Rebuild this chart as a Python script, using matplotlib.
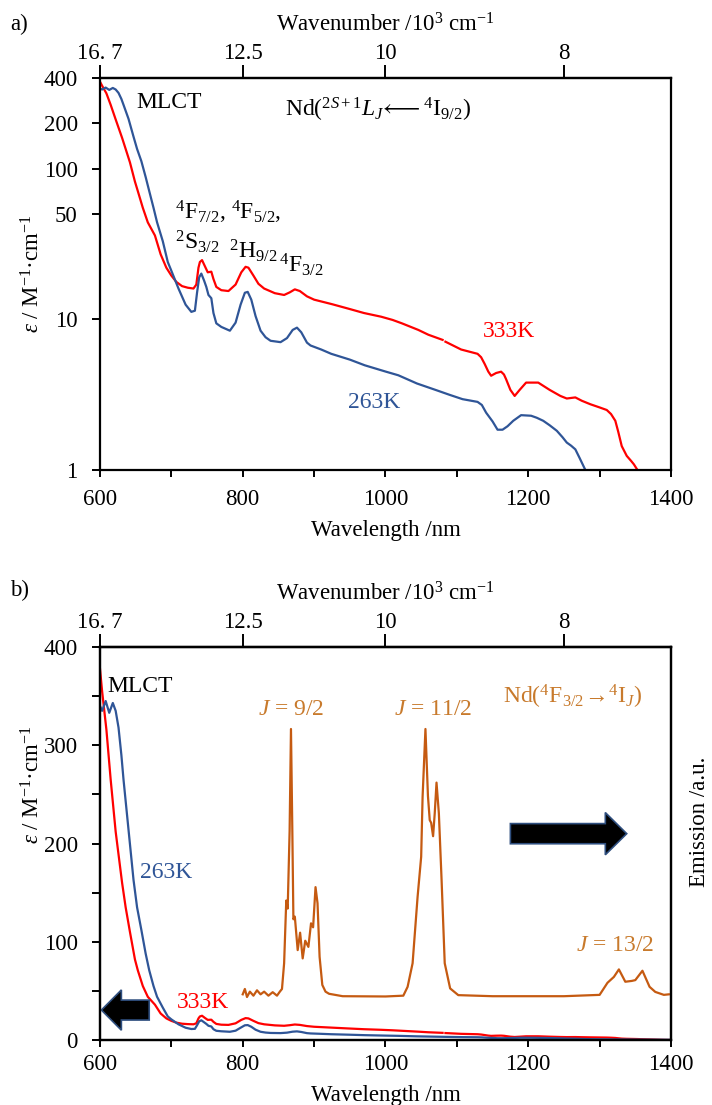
import numpy as np
import matplotlib
matplotlib.use('Agg')
import matplotlib.pyplot as plt
from matplotlib.patches import FancyArrow
from matplotlib.ticker import FixedLocator, MultipleLocator, FuncFormatter

plt.rcParams['font.family'] = ['Liberation Serif', 'DejaVu Serif']
plt.rcParams['mathtext.fontset'] = 'custom'
plt.rcParams['mathtext.rm'] = 'Liberation Serif'
plt.rcParams['mathtext.it'] = 'Liberation Serif:italic'
plt.rcParams['mathtext.bf'] = 'Liberation Serif:bold'

# absorption, 263 K (wavelength nm, epsilon M-1 cm-1)
wl_263 = [600, 603, 608, 613, 618, 622, 626, 630, 633, 640, 647, 652, 658, 664, 669,
          675, 680, 688, 695, 700, 710, 720, 728, 733, 736, 739, 742, 746, 749, 752,
          756, 759, 763, 770, 782, 790, 797, 803, 807, 812, 818, 825, 832, 839, 853,
          862, 870, 876, 882, 890, 895, 910, 924, 950, 971, 1000, 1018, 1044, 1070, 1090,
          1108, 1129, 1135, 1141, 1150, 1157, 1164, 1171, 1179, 1190, 1204, 1212, 1221, 1230, 1240,
          1248, 1254, 1260, 1266, 1272, 1280, 1290, 1320, 1360, 1400]
eps_263 = [340, 335, 345, 333, 343, 335, 318, 290, 265, 214, 163, 135, 112, 88, 71,
           55, 44, 33, 24, 21, 16, 12.5, 11.2, 11.4, 15, 19, 20.1, 18, 16.4, 14.5,
           13.8, 11, 9.4, 8.9, 8.4, 9.5, 12.5, 15, 15.2, 13.5, 10.5, 8.4, 7.6, 7.2, 7.05,
           7.5, 8.5, 8.8, 8.2, 7.0, 6.7, 6.3, 5.9, 5.4, 4.95, 4.5, 4.25, 3.75, 3.4, 3.15,
           2.95, 2.83, 2.7, 2.4, 2.1, 1.85, 1.85, 1.95, 2.12, 2.31, 2.29, 2.22, 2.12, 1.98, 1.82,
           1.65, 1.52, 1.45, 1.37, 1.2, 1.0, 0.85, 0.6, 0.4, 0.2]

# absorption, 333 K (gap in the recorded trace near 1082 nm)
wl_333 = [600, 603, 609, 615, 622, 631, 636, 642, 649, 653, 660, 667, 677, 685, 693,
          700, 707, 715, 723, 731, 735, 738, 740, 743, 747, 751, 756, 759, 763, 770,
          780, 790, 798, 804, 808, 815, 822, 830, 845, 858, 866, 873, 880, 890, 900,
          925, 947, 970, 994, 1010, 1023, 1046, 1060, 1080, 1082, 1084, 1106, 1129, 1134, 1139,
          1144, 1148, 1155, 1162, 1166, 1169, 1175, 1181, 1188, 1197, 1214, 1230, 1245, 1254, 1266,
          1275, 1287, 1300, 1310, 1316, 1322, 1326, 1331, 1338, 1344, 1348, 1353, 1360, 1375, 1390, 1400]
eps_333 = [378, 355, 316, 265, 212, 160, 135, 110, 82, 71, 55, 44, 36, 27, 22,
           19.5, 17.7, 16.6, 16.2, 16.0, 17, 22, 24, 24.7, 22.5, 20.5, 20.7, 18.5, 16.4, 15.6,
           15.4, 17, 20.5, 22.3, 22, 19.5, 17.2, 16.0, 14.9, 14.5, 15.1, 15.8, 15.4, 14.2, 13.5,
           12.6, 11.8, 11.0, 10.4, 9.9, 9.4, 8.5, 7.9, 7.3, np.nan, 7.1, 6.3, 5.9, 5.6, 5.05,
           4.5, 4.22, 4.4, 4.49, 4.3, 4.0, 3.4, 3.1, 3.4, 3.8, 3.8, 3.4, 3.1, 2.98, 3.03,
           2.88, 2.73, 2.6, 2.5, 2.35, 2.12, 1.8, 1.44, 1.24, 1.15, 1.09, 1.0, 0.8, 0.5, 0.15, 0.05]

# Nd emission (normalised to the strongest line)
wl_em = [800, 803, 806, 810, 815, 820, 825, 830, 836, 842, 848, 852, 855, 858, 861,
         863, 865.7, 867.6, 869.5, 871, 873, 877, 880.4, 884, 887.6, 892, 895.7, 898.6, 902, 904.8,
         907.7, 911.5, 916, 921, 940, 1000, 1025, 1031, 1038, 1045, 1050, 1052, 1056, 1059.5, 1062,
         1064, 1066.7, 1069, 1071.5, 1074.8, 1078.6, 1083, 1090.6, 1102, 1150, 1250, 1300, 1311, 1320, 1327,
         1336, 1345, 1350, 1360, 1370, 1378, 1390, 1397]
em = [0.01, 0.03, 0.0, 0.02, 0.005, 0.025, 0.01, 0.02, 0.005, 0.018, 0.005, 0.02, 0.03, 0.126, 0.36,
      0.33, 0.62, 1.0, 0.62, 0.29, 0.30, 0.175, 0.24, 0.144, 0.21, 0.187, 0.275, 0.26, 0.41, 0.35,
      0.15, 0.045, 0.02, 0.012, 0.003, 0.002, 0.005, 0.038, 0.126, 0.374, 0.523, 0.747, 1.0, 0.75, 0.66,
      0.65, 0.6, 0.685, 0.8, 0.685, 0.437, 0.126, 0.032, 0.007, 0.003, 0.003, 0.008, 0.053, 0.075, 0.103,
      0.057, 0.06, 0.063, 0.098, 0.038, 0.019, 0.008, 0.01]

wn_ticks = [1e4 / 600, 12.5, 10, 8]
wn_labels = ['16. 7', '12.5', '10', '8']
loglabels = [1, 10, 50, 100, 200, 400]

RED = '#FF0000'
BLUE = '#2F5597'
ORANGE = '#C55A11'
ORANGE_TXT = '#C87A2C'
FS = 16.5
AFS = 17

fig = plt.figure(figsize=(7.12, 11.05), dpi=100)
ax_a = fig.add_axes([0.1404, 0.5747, 0.802, 0.3548])
ax_b = fig.add_axes([0.1404, 0.0588, 0.802, 0.3557])


def style(ax, xpad):
    for s in ax.spines.values():
        s.set_linewidth(1.6)
    ax.set_xlim(600, 1400)
    ax.xaxis.set_major_locator(MultipleLocator(200))
    ax.xaxis.set_minor_locator(MultipleLocator(100))
    ax.tick_params(axis='x', which='both', direction='out', length=5, width=1.4, labelsize=FS, pad=xpad)
    ax.tick_params(axis='y', which='both', direction='out', length=6, width=1.4, labelsize=FS, pad=10)
    ax.set_xlabel('Wavelength /nm', fontsize=FS, labelpad=7)
    sec = ax.secondary_xaxis('top', functions=(lambda x: 1e4 / np.maximum(x, 1e-6),
                                                lambda x: 1e4 / np.maximum(x, 1e-6)))
    sec.xaxis.set_major_locator(FixedLocator(wn_ticks))
    sec.xaxis.set_major_formatter(FuncFormatter(lambda v, p: wn_labels[int(np.argmin(np.abs(np.array(wn_ticks) - v)))]))
    sec.xaxis.set_minor_locator(FixedLocator([]))
    sec.tick_params(axis='x', direction='out', length=9.5, width=1.4, labelsize=FS, pad=0.5)
    sec.set_xlabel('Wavenumber /10$^3$ cm$^{-1}$', fontsize=FS, labelpad=8)
    sec.spines['top'].set_linewidth(1.6)
    return sec


# ---- panel a: log scale absorption
style(ax_a, 9)
ax_a.plot(wl_333, eps_333, color=RED, lw=1.6)
ax_a.plot(wl_263, eps_263, color=BLUE, lw=1.6)
ax_a.set_yscale('log')
ax_a.set_ylim(1, 400)
ax_a.yaxis.set_major_locator(FixedLocator(loglabels))
ax_a.yaxis.set_major_formatter(FuncFormatter(lambda v, p: '%d' % round(v)))
ax_a.yaxis.set_minor_locator(FixedLocator([]))
ax_a.set_ylabel(r'$\varepsilon$ / M$^{-1}$·cm$^{-1}$', fontsize=FS)
ax_a.yaxis.set_label_coords(-0.098, 0.5)

ax_a.text(651, 273, 'MLCT', fontsize=AFS, va='center')
ax_a.text(989, 246, r'Nd($^{2S+1}L_J\!\longleftarrow$$^4$I$_{9/2}$)', fontsize=AFS, va='center', ha='center')
ax_a.text(705, 50.9, r'$^4$F$_{7/2}$, $^4$F$_{5/2}$,', fontsize=AFS, va='center')
ax_a.text(705, 32.6, r'$^2$S$_{3/2}$', fontsize=AFS, va='center')
ax_a.text(781, 28.5, r'$^2$H$_{9/2}$', fontsize=AFS, va='center')
ax_a.text(851, 23, r'$^4$F$_{3/2}$', fontsize=AFS, va='center')
ax_a.text(1137, 8.25, '333K', fontsize=AFS, va='center', color=RED)
ax_a.text(947, 2.79, '263K', fontsize=AFS, va='center', color=BLUE)
fig.text(0.014, 1 - 24 / 1105, 'a)', fontsize=FS, va='center')

# ---- panel b: linear absorption + emission
style(ax_b, 5)
ax_b.plot(wl_333, eps_333, color=RED, lw=1.6)
ax_b.plot(wl_263, eps_263, color=BLUE, lw=1.6)
ax_b.set_ylim(0, 400)
ax_b.yaxis.set_major_locator(MultipleLocator(100))
ax_b.yaxis.set_minor_locator(MultipleLocator(50))
ax_b.set_ylabel(r'$\varepsilon$ / M$^{-1}$·cm$^{-1}$', fontsize=FS)
ax_b.yaxis.set_label_coords(-0.098, 0.65)

ax_e = ax_b.twinx()
ax_e.plot(wl_em, em, color=ORANGE, lw=1.6)
ax_e.set_ylim(-0.1605, 1.306)
ax_e.set_yticks([])
ax_e.set_ylabel('Emission /a.u.', fontsize=FS)
ax_e.yaxis.set_label_coords(1.032, 0.555)
for s in ax_e.spines.values():
    s.set_linewidth(1.6)

ax_b.text(611, 360, 'MLCT', fontsize=AFS, va='center')
ax_b.text(656, 170, '263K', fontsize=AFS, va='center', color=BLUE)
ax_b.text(708, 37.7, '333K', fontsize=AFS, va='center', color=RED)
ax_b.text(868, 336, r'$J$ = 9/2', fontsize=AFS, va='center', ha='center', color=ORANGE_TXT)
ax_b.text(1067, 336, r'$J$ = 11/2', fontsize=AFS, va='center', ha='center', color=ORANGE_TXT)
ax_b.text(1262, 349, r'Nd($^4$F$_{3/2}$$\!\rightarrow\!$$^4$I$_J$)', fontsize=AFS, va='center', ha='center',
          color=ORANGE_TXT)
ax_b.text(1322, 96.7, r'$J$ = 13/2', fontsize=AFS, va='center', ha='center', color=ORANGE_TXT)

# block arrows showing which axis each set of curves belongs to
ax_b.add_patch(FancyArrow(1175, 210, 163, 0, width=20.5, head_width=43, head_length=30,
                          length_includes_head=True, facecolor='black', edgecolor='#2F4F7F', lw=1.2, zorder=5))
ax_b.add_patch(FancyArrow(669, 30.5, -67, 0, width=20.3, head_width=41, head_length=28,
                          length_includes_head=True, facecolor='black', edgecolor='#2F4F7F', lw=1.2, zorder=5))
fig.text(0.014, 1 - 590 / 1105, 'b)', fontsize=FS, va='center')

plt.savefig('out.png', dpi=100)
